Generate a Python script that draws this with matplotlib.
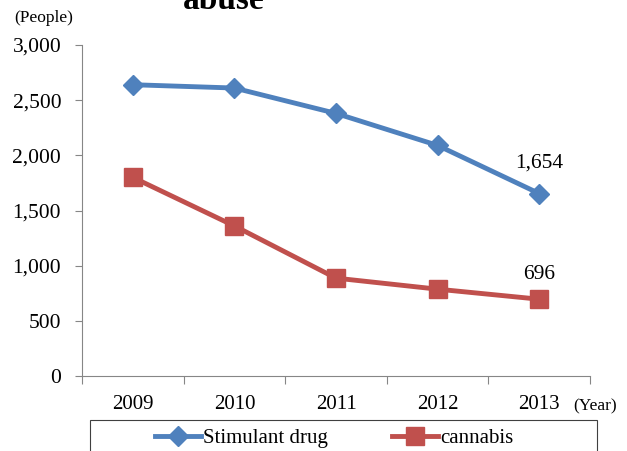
import matplotlib.pyplot as plt
from matplotlib.patches import Rectangle

years = ['2009', '2010', '2011', '2012', '2013']
stimulant = [2640, 2610, 2380, 2090, 1654]
cannabis = [1800, 1360, 887, 787, 696]

plt.rcParams['font.family'] = ['Liberation Serif', 'DejaVu Serif']

fig = plt.figure(figsize=(6.27, 4.51), dpi=100)
ax = fig.add_axes([82 / 627, 1 - 376 / 451, 508 / 627, 331 / 451])

x = list(range(len(years)))
ax.plot(x, stimulant, color='#4F81BD', lw=3.5, marker='D', ms=10,
        label='Stimulant drug', clip_on=False)
ax.plot(x, cannabis, color='#C0504D', lw=3.5, marker='s', ms=13,
        label='cannabis', clip_on=False)

# value labels on the last year
ax.annotate('{:,}'.format(stimulant[-1]), (x[-1], stimulant[-1]),
            xytext=(0, 15), textcoords='offset points', ha='center',
            va='bottom', fontsize=15.5)
ax.annotate('{:,}'.format(cannabis[-1]), (x[-1], cannabis[-1]),
            xytext=(0, 11), textcoords='offset points', ha='center',
            va='bottom', fontsize=15.5)

ax.set_xlim(-0.5, len(years) - 0.5)
ax.set_ylim(0, 3000)
ax.set_yticks(range(0, 3001, 500))
ax.set_yticklabels(['{:,}'.format(v) for v in range(0, 3001, 500)])

# ticks at category boundaries, labels at centres
ax.set_xticks([i - 0.5 for i in range(len(years) + 1)])
ax.set_xticklabels([])
ax.set_xticks(x, minor=True)
ax.set_xticklabels(years, minor=True)
ax.tick_params(axis='x', which='major', length=6, color='#868686')
ax.tick_params(axis='x', which='minor', length=0, pad=14, labelsize=15)
ax.tick_params(axis='y', length=5, color='#868686', pad=10, labelsize=15.5)

for s in ['top', 'right']:
    ax.spines[s].set_visible(False)
for s in ['left', 'bottom']:
    ax.spines[s].set_color('#868686')

fig.text(14 / 627, 1 - 18 / 451, '(People)', fontsize=12.5, va='center')
fig.text(573 / 627, 1 - 406 / 451, '(Year)', fontsize=12.5, va='center')
fig.text(224 / 627, 1 - 9 / 451, 'abuse', fontsize=24, fontweight='bold',
         ha='center', va='baseline')

# legend box running off the bottom edge
fig.patches.append(Rectangle((90 / 627, -0.1), 507 / 627, 0.1 + 31 / 451,
                             transform=fig.transFigure, fill=False,
                             edgecolor='#404040', lw=0.8))
fig.legend(loc='center', bbox_to_anchor=(334 / 627, 1 - 438 / 451),
           ncol=2, frameon=False, fontsize=15, handlelength=2.2,
           handletextpad=0.1, columnspacing=3.1)

fig.savefig('out.png', dpi=100)
